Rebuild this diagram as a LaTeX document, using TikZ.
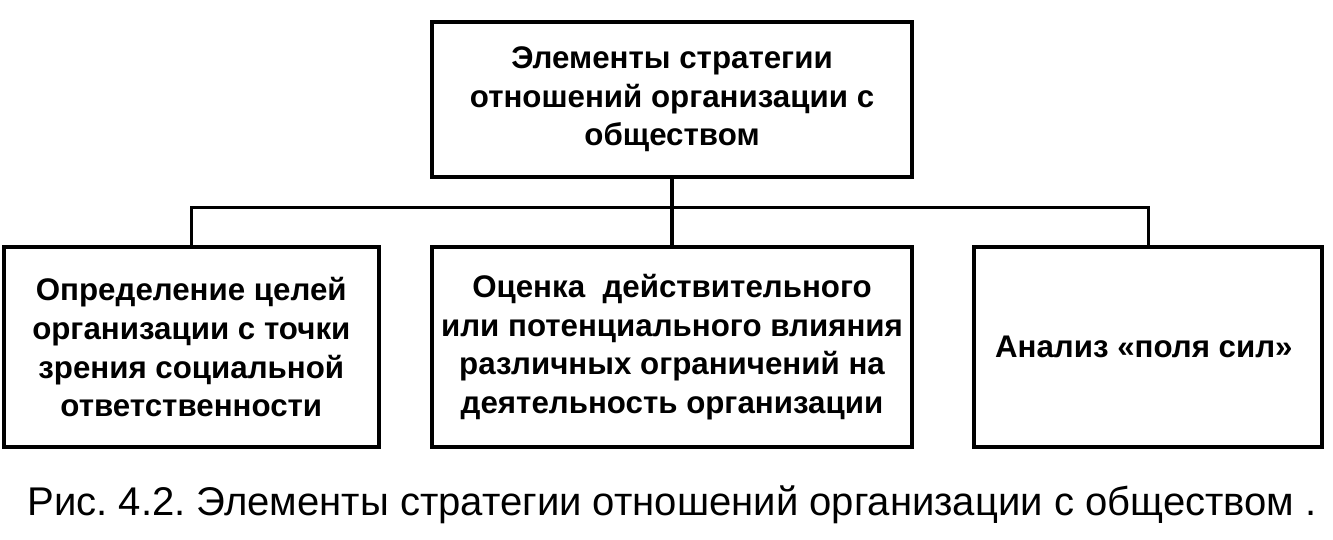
\documentclass[tikz,border=0pt]{standalone}
\usepackage{fontspec}
\setmainfont{Liberation Sans}
\usetikzlibrary{positioning}
\frenchspacing

\begin{document}
\begin{tikzpicture}[
        elembox/.style={
            rectangle,
            draw=black,
            line width=1.2pt,
            align=center,
            inner sep=0pt,
            minimum height=2cm,
            font=\fontsize{8.9}{11}\selectfont\bfseries
        },
        link/.style={
            line width=0.9pt,
            draw=black
        }
    ]
    \useasboundingbox (0,0) rectangle (13.33,-5.39);

    % Main box
    \node[elembox, minimum width=4.8cm, minimum height=1.55cm] (main) at (6.72,-0.995) {
        Элементы стратегии\\
        отношений организации с\\
        обществом
    };

    % Middle box
    \node[elembox, minimum width=4.8cm, below=0.66cm of main] (estim) {
        Оценка \ действительного\\
        или потенциального влияния\\
        различных ограничений на\\
        деятельность организации
    };

    % Left box
    \node[elembox, minimum width=3.75cm, left=0.49cm of estim] (goals) {
        Определение целей\\
        организации с точки\\
        зрения социальной\\
        ответственности
    };

    % Right box
    \node[elembox, minimum width=3.48cm, right=0.58cm of estim] (forces) {
        Анализ «поля сил»
    };

    % Connectors
    \draw[link] (main.south) -- (estim.north);
    \draw[link] (goals.north) -- ++(0,0.38) -| (forces.north);

    % Caption
    \node[font=\fontsize{11.4}{13}\selectfont, below=0.24cm of estim] (caption) {
        Рис. 4.2. Элементы стратегии отношений организации с обществом .
    };

\end{tikzpicture}
\end{document}
